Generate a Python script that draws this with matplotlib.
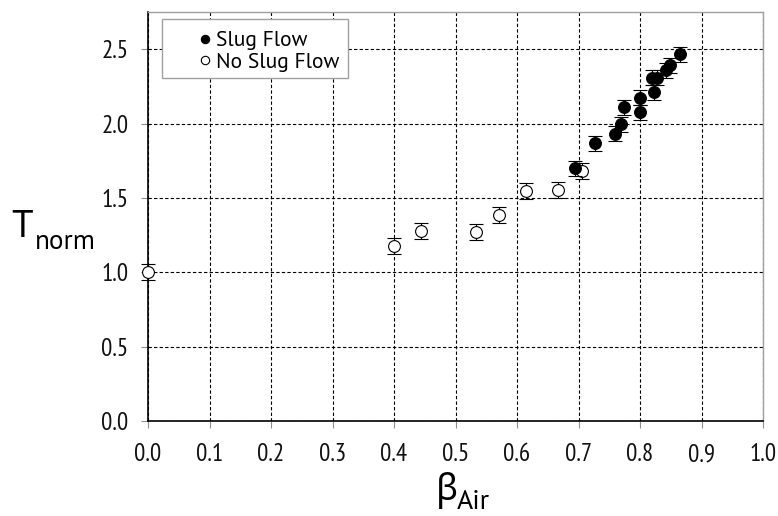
import matplotlib
matplotlib.use("Agg")
import matplotlib.pyplot as plt
from matplotlib.lines import Line2D
from matplotlib.patches import Rectangle

plt.rcParams['font.family'] = ['PT Sans', 'Noto Sans', 'DejaVu Sans']

# Normalised torque vs air volume fraction
slug_beta = [0.695, 0.727, 0.760, 0.769, 0.774, 0.800, 0.800, 0.820, 0.823, 0.827, 0.842, 0.848, 0.865]
slug_t = [1.698, 1.866, 1.933, 1.994, 2.110, 2.075, 2.173, 2.307, 2.209, 2.307, 2.359, 2.392, 2.466]
slug_err = [0.05] * len(slug_beta)

noslug_beta = [0.0, 0.400, 0.444, 0.533, 0.571, 0.615, 0.666, 0.706]
noslug_t = [1.000, 1.176, 1.277, 1.270, 1.384, 1.546, 1.552, 1.680]
noslug_err = [0.055] * len(noslug_beta)

x_ticks = [0.0, 0.1, 0.2, 0.3, 0.4, 0.5, 0.6, 0.7, 0.8, 0.9, 1.0]
y_ticks = [0.0, 0.5, 1.0, 1.5, 2.0, 2.5]

W, H = 778, 516
fig = plt.figure(figsize=(W / 100, H / 100), dpi=100)
ax = fig.add_axes([148 / W, 1 - 421 / H, (763 - 148) / W, (421 - 12) / H])

ax.set_xlim(0, 1.0)
ax.set_ylim(0, 2.75)
ax.set_xticks(x_ticks)
ax.set_yticks(y_ticks)
ax.set_xticklabels([f"{v:.1f}" for v in x_ticks])
ax.set_yticklabels([f"{v:.1f}" for v in y_ticks])
for lab in ax.get_xticklabels() + ax.get_yticklabels():
    lab.set_family(['PT Sans Narrow', 'PT Sans', 'DejaVu Sans'])

ax.grid(True, color='black', linestyle=(0, (3, 2)), linewidth=0.8)
ax.set_axisbelow(True)

for side in ['top', 'right']:
    ax.spines[side].set_color('#a0a0a0')
    ax.spines[side].set_linewidth(1.0)
for side in ['left', 'bottom']:
    ax.spines[side].set_color('black')
    ax.spines[side].set_linewidth(1.2)

ax.tick_params(axis='both', direction='out', length=5, width=0.8, color='#909090',
               labelsize=18, labelcolor='#111111')
ax.tick_params(axis='y', pad=9)
ax.tick_params(axis='x', pad=11)

# open markers: no slug flow
ax.errorbar(noslug_beta, noslug_t, yerr=noslug_err, fmt='o', markersize=8.5,
            markerfacecolor='white', markeredgecolor='black', markeredgewidth=0.8,
            ecolor='black', elinewidth=0.8, capsize=5, capthick=0.8,
            zorder=3, clip_on=False)
# filled markers: slug flow
ax.errorbar(slug_beta, slug_t, yerr=slug_err, fmt='o', markersize=8.5,
            markerfacecolor='black', markeredgecolor='black', markeredgewidth=0.8,
            ecolor='black', elinewidth=0.8, capsize=5, capthick=0.8,
            zorder=4, clip_on=False)

# legend box
to_ax = lambda px, py: ((px - 148) / 615, (421 - py) / 409)
x0, y0 = to_ax(162, 78)
x1, y1 = to_ax(348, 19)
ax.add_patch(Rectangle((x0, y0), x1 - x0, y1 - y0, transform=ax.transAxes,
                       facecolor='white', edgecolor='#a0a0a0', linewidth=1.0, zorder=5))
handles = [
    Line2D([], [], linestyle='none', marker='o', markersize=6,
           markerfacecolor='black', markeredgecolor='black', markeredgewidth=0.8),
    Line2D([], [], linestyle='none', marker='o', markersize=6,
           markerfacecolor='white', markeredgecolor='black', markeredgewidth=0.8),
]
lx, ly = to_ax(199, 31)
leg = ax.legend(handles, ['Slug Flow', 'No Slug Flow'], loc='upper left',
                bbox_to_anchor=(lx, ly), frameon=False, fontsize=15.5,
                handlelength=0.6, handletextpad=0.2, labelspacing=0.12,
                borderpad=0, borderaxespad=0)
leg.set_zorder(6)

# axis titles
fig.text(11 / W, 1 - 237 / H, 'T', fontsize=28, va='baseline', ha='left')
fig.text(35 / W, 1 - 249 / H, 'norm', fontsize=19.5, va='baseline', ha='left')
fig.text(436 / W, 1 - 500 / H, 'β', fontsize=26, va='baseline', ha='left',
         family=['Noto Sans', 'DejaVu Sans'])
fig.text(457 / W, 1 - 509 / H, 'Air', fontsize=20, va='baseline', ha='left')

fig.savefig('out.png', dpi=100)
